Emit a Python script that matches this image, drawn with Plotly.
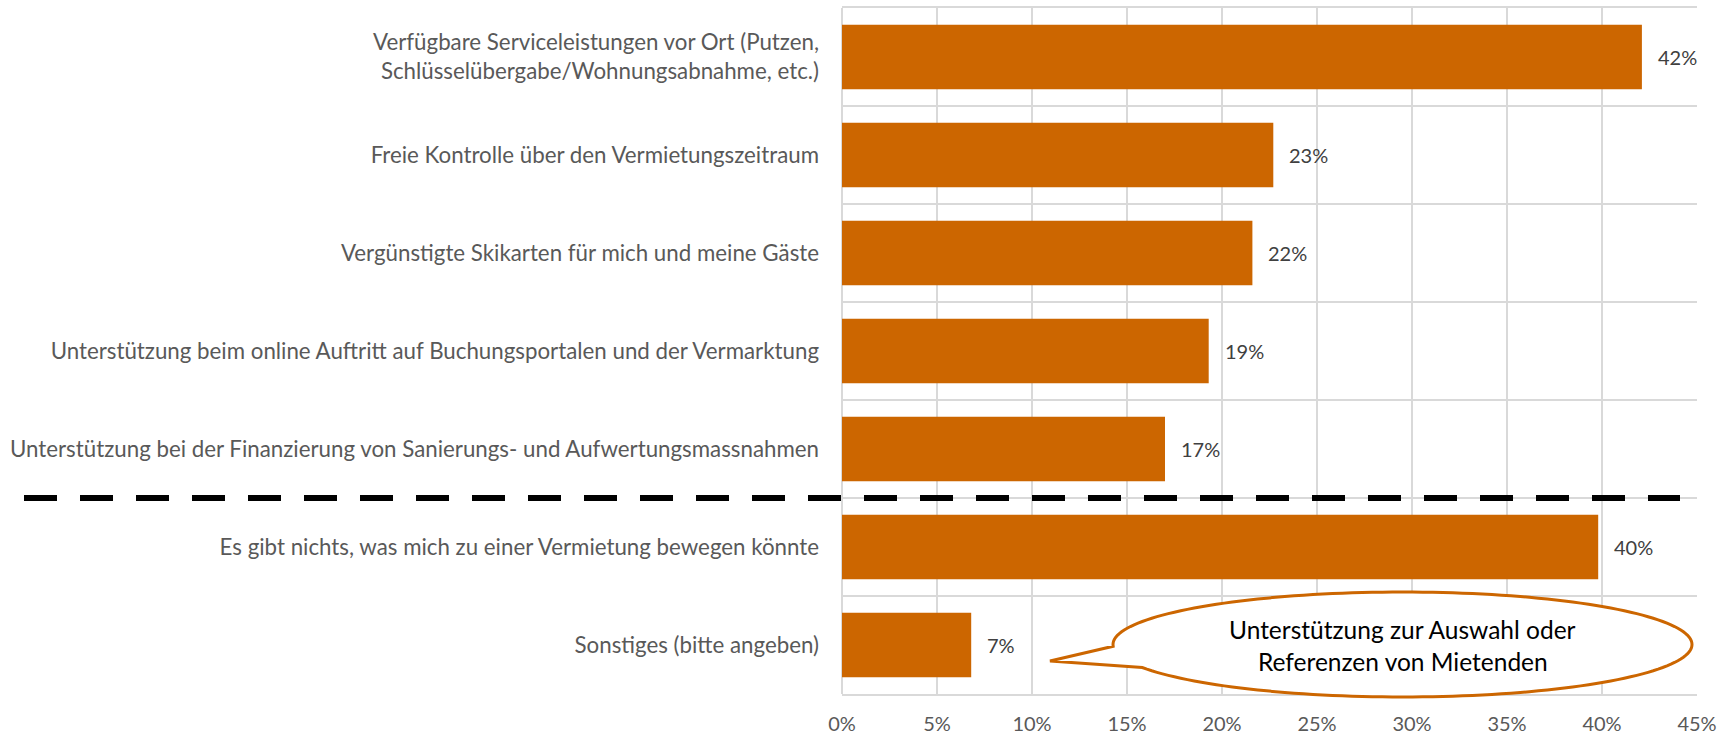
import math
import plotly.graph_objects as go

categories = [
    "Verfügbare Serviceleistungen vor Ort (Putzen,<br>Schlüsselübergabe/Wohnungsabnahme, etc.)",
    "Freie Kontrolle über den Vermietungszeitraum",
    "Vergünstigte Skikarten für mich und meine Gäste",
    "Unterstützung beim online Auftritt auf Buchungsportalen und der Vermarktung",
    "Unterstützung bei der Finanzierung von Sanierungs- und Aufwertungsmassnahmen",
    "Es gibt nichts, was mich zu einer Vermietung bewegen könnte",
    "Sonstiges (bitte angeben)",
]
values = [42.1, 22.7, 21.6, 19.3, 17.0, 39.8, 6.8]
value_labels = ["42%", "23%", "22%", "19%", "17%", "40%", "7%"]
x_range = [0, 45]
x_dtick = 5
callout_lines = ["Unterstützung zur Auswahl oder", "Referenzen von Mietenden"]

W, H = 1731, 736
ML, MR, MT, MB = 842, 34, 8, 42
PW = W - ML - MR
PH = H - MT - MB

BAR = "#CC6600"
GRID = "#D9D9D9"
TXT = "#595959"
FONT = "Lato"


def px(xp):
    return (xp - ML) / PW


def py(yp):
    return 1 - (yp - MT) / PH


fig = go.Figure()
fig.add_trace(go.Bar(
    x=values, y=categories, orientation="h",
    marker=dict(color=BAR, line=dict(width=0)),
    hoverinfo="skip", showlegend=False,
))

for v, c, lab in zip(values, categories, value_labels):
    fig.add_annotation(x=v, y=c, text=lab, showarrow=False, xanchor="left",
                       xshift=14, font=dict(family=FONT, size=20, color="#404040"))

# dashed separator
fig.add_shape(type="line", xref="paper", yref="y", x0=px(24), x1=px(1680),
              y0=4.5, y1=4.5, line=dict(color="black", width=6, dash="33px,23px"),
              layer="above")

# callout (ellipse with tail)
cx, cy, rx, ry = 1402.5, 644.5, 289.5, 52.5
t_up, t_low = 178, 155
tip = (1050, 661)
pts = []
t = t_up
while t <= t_low + 360:
    a = math.radians(t)
    pts.append((cx + rx * math.cos(a), cy + ry * math.sin(a)))
    t += 2
path = "M " + " L ".join(f"{px(x):.5f},{py(y):.5f}" for x, y in pts)
path += f" L {px(tip[0]):.5f},{py(tip[1]):.5f} Z"
fig.add_shape(type="path", xref="paper", yref="paper", path=path,
              fillcolor="white", line=dict(color=BAR, width=3), layer="above")

for line, yy in zip(callout_lines, [629, 661]):
    fig.add_annotation(xref="paper", yref="paper", x=px(cx), y=py(yy),
                       text=line, showarrow=False, xanchor="center", yanchor="middle",
                       font=dict(family=FONT, size=24.5, color="black"))

fig.update_layout(
    width=W, height=H,
    margin=dict(l=ML, r=MR, t=MT, b=MB, pad=0, autoexpand=False),
    paper_bgcolor="white", plot_bgcolor="white",
    bargap=0.34,
    font=dict(family=FONT, color=TXT),
    xaxis=dict(range=x_range, tick0=0, dtick=x_dtick, ticksuffix="%",
               showgrid=True, gridcolor=GRID, gridwidth=1.5,
               zeroline=True, zerolinecolor=GRID, zerolinewidth=1.5,
               showline=True, mirror=True, linecolor=GRID, linewidth=1.5,
               ticks="", tickfont=dict(size=20, color=TXT),
               ticklabelstandoff=11, fixedrange=True, automargin=False),
    yaxis=dict(type="category", autorange="reversed", tickson="boundaries",
               showgrid=True, gridcolor=GRID, gridwidth=1.5,
               showline=False, ticks="", tickfont=dict(size=22.3, color=TXT),
               ticklabelstandoff=22, fixedrange=True, automargin=False),
)

fig.write_html(
    "out.html",
    config={"displayModeBar": False},
    post_script="document.body.style.margin='0';document.body.style.overflow='hidden';",
)
